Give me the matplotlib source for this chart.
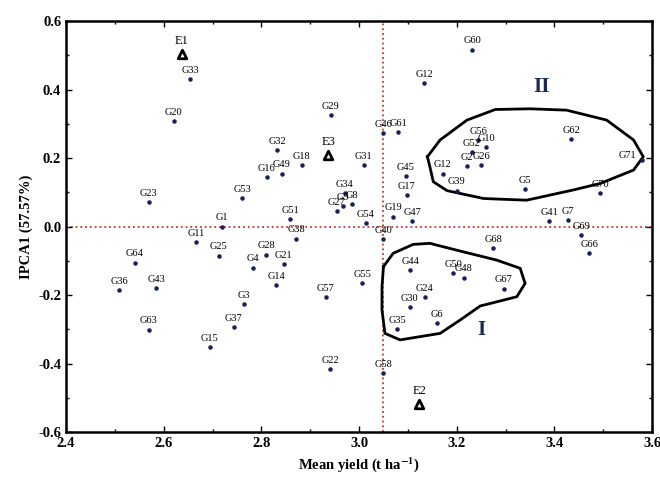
import numpy as np
import matplotlib
matplotlib.use('Agg')
import matplotlib.pyplot as plt
from matplotlib.ticker import MultipleLocator, FormatStrFormatter

# === genotype scores (mean yield vs IPCA1) ===
g_names = ['G33', 'G20', 'G32', 'G18', 'G49', 'G16', 'G23', 'G53', 'G1', 'G11',
           'G25', 'G64', 'G36', 'G43', 'G28', 'G4', 'G14', 'G3', 'G63', 'G37',
           'G15', 'G31', 'G45', 'G12', 'G17', 'G54', 'G51', 'G38', 'G19', 'G47',
           'G40', 'G21', 'G57', 'G55', 'G44', 'G24', 'G30', 'G41', 'G7', 'G69',
           'G66', 'G68', 'G50', 'G48', 'G67', 'G35', 'G6', 'G22', 'G58', 'G29',
           'G46', 'G61', 'G12', 'G60', 'G62', 'G56', 'G52', 'G10', 'G2', 'G26',
           'G39', 'G5', 'G70', 'G71', 'G34', 'G8', 'G9', 'G27']
g_yield = [2.654, 2.621, 2.833, 2.883, 2.842, 2.811, 2.569, 2.761, 2.720, 2.667,
           2.713, 2.541, 2.509, 2.585, 2.810, 2.782, 2.830, 2.765, 2.569, 2.743,
           2.694, 3.010, 3.096, 3.171, 3.098, 3.014, 2.859, 2.871, 3.070, 3.109,
           3.050, 2.846, 2.932, 3.007, 3.105, 3.135, 3.104, 3.389, 3.427, 3.455,
           3.471, 3.275, 3.193, 3.214, 3.296, 3.078, 3.159, 2.941, 3.050, 2.942,
           3.050, 3.080, 3.133, 3.232, 3.434, 3.244, 3.231, 3.260, 3.221, 3.250,
           3.200, 3.339, 3.494, 3.579, 2.971, 2.986, 2.967, 2.954]
g_ipca = [0.432, 0.308, 0.223, 0.180, 0.155, 0.145, 0.072, 0.082, 0.000, -0.045,
          -0.085, -0.105, -0.185, -0.180, -0.082, -0.120, -0.171, -0.226, -0.301, -0.293,
          -0.352, 0.180, 0.147, 0.155, 0.093, 0.011, 0.021, -0.035, 0.029, 0.017,
          -0.036, -0.109, -0.207, -0.164, -0.127, -0.205, -0.234, 0.016, 0.019, -0.024,
          -0.078, -0.064, -0.135, -0.149, -0.181, -0.300, -0.281, -0.417, -0.427, 0.326,
          0.272, 0.277, 0.420, 0.517, 0.256, 0.253, 0.218, 0.233, 0.177, 0.180,
          0.105, 0.109, 0.098, 0.194, 0.097, 0.066, 0.060, 0.045]

# environments
e_names = ['E1', 'E2', 'E3']
e_yield = [2.637, 3.123, 2.937]
e_ipca = [0.503, -0.518, 0.209]

grand_mean = 3.05

# outlines of the two groups (data coords)
grp2_x = [3.140, 3.166, 3.221, 3.279, 3.350, 3.425, 3.507, 3.562, 3.582, 3.562, 3.494,
          3.439, 3.343, 3.255, 3.180, 3.152, 3.145, 3.140]
grp2_y = [0.204, 0.253, 0.311, 0.342, 0.344, 0.340, 0.311, 0.253, 0.204, 0.165, 0.126,
          0.107, 0.077, 0.082, 0.105, 0.131, 0.175, 0.204]
grp1_x = [3.050, 3.070, 3.111, 3.145, 3.214, 3.282, 3.330, 3.340, 3.323, 3.248,
          3.207, 3.166, 3.084, 3.053, 3.047, 3.047, 3.050]
grp1_y = [-0.117, -0.078, -0.052, -0.049, -0.074, -0.098, -0.122, -0.166, -0.205, -0.232,
          -0.273, -0.312, -0.331, -0.312, -0.244, -0.176, -0.117]

plt.rcParams['font.family'] = ['Liberation Serif', 'DejaVu Serif']
plt.rcParams['mathtext.fontset'] = 'stix'

fig = plt.figure(figsize=(6.6, 4.92), dpi=100)
ax = fig.add_axes([0.1, 0.122, 0.888, 0.835])

ax.axhline(0, color='#c0392b', ls=':', lw=1.3, zorder=1)
ax.axvline(grand_mean, color='#c0392b', ls=':', lw=1.3, zorder=1)

ax.plot(grp2_x, grp2_y, color='black', lw=2, solid_joinstyle='round', zorder=2)
ax.plot(grp1_x, grp1_y, color='black', lw=2, solid_joinstyle='round', zorder=2)

ax.scatter(g_yield, g_ipca, s=5, color='#1a1f5c', zorder=3)
for name, x, y in zip(g_names, g_yield, g_ipca):
    if name == 'G71':
        ax.annotate(name, (x, y), xytext=(-4, 0), textcoords='offset points',
                    ha='right', va='bottom', fontsize=7.5, color='black')
    else:
        ax.annotate(name, (x, y), xytext=(0, 3), textcoords='offset points',
                    ha='center', va='bottom', fontsize=7.5, color='black')

ax.scatter(e_yield, e_ipca, marker='^', s=38, facecolor='white',
           edgecolor='black', linewidths=2, zorder=4)
for name, x, y in zip(e_names, e_yield, e_ipca):
    ax.annotate(name, (x, y), xytext=(0, 5), textcoords='offset points',
                ha='center', va='bottom', fontsize=9, color='black')

ax.text(3.373, 0.408, 'II', fontsize=15, fontweight='bold', color='#1b2a55',
        ha='center', va='center')
ax.text(3.250, -0.302, 'I', fontsize=15, fontweight='bold', color='#1b2a55',
        ha='center', va='center')

ax.set_xlim(2.4, 3.6)
ax.set_ylim(-0.6, 0.6)
ax.set_xticks(np.arange(2.4, 3.61, 0.2))
ax.set_yticks(np.arange(-0.6, 0.61, 0.2))
ax.xaxis.set_major_formatter(FormatStrFormatter('%.1f'))
ax.yaxis.set_major_formatter(FormatStrFormatter('%.1f'))
ax.xaxis.set_minor_locator(MultipleLocator(0.1))
ax.yaxis.set_minor_locator(MultipleLocator(0.1))
ax.tick_params(which='both', direction='in', top=True, right=True, width=1)
ax.tick_params(which='major', length=4, labelsize=10.5)
ax.tick_params(which='minor', length=2.5)
for lab in ax.get_xticklabels() + ax.get_yticklabels():
    lab.set_fontweight('bold')
for sp in ax.spines.values():
    sp.set_linewidth(1.8)

ax.set_xlabel('Mean yield (t ha$^{\\mathbf{-1}}$)', fontsize=10.5, fontweight='bold')
ax.set_ylabel('IPCA1 (57.57%)', fontsize=10.5, fontweight='bold')

fig.savefig('out.png', dpi=100)
